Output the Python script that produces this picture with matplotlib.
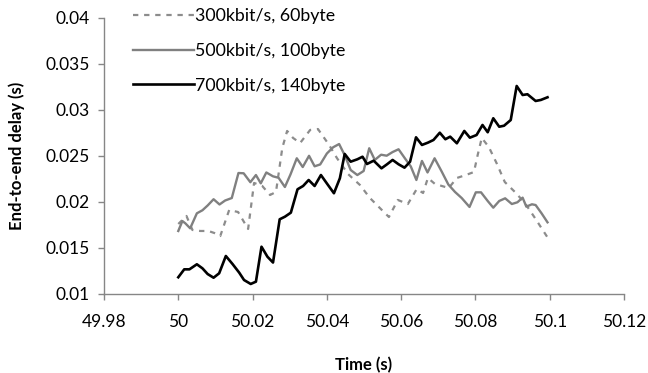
import matplotlib
matplotlib.use("Agg")
import matplotlib.pyplot as plt

# 300kbit/s, 60byte (dashed grey)
time_300 = [50.0, 50.0022, 50.0038, 50.0059, 50.0081, 50.0097, 50.0113, 50.0137,
            50.0161, 50.0188, 50.0204, 50.0226, 50.0247, 50.0263, 50.0280, 50.0293,
            50.0309, 50.0328, 50.0355, 50.0376, 50.0406, 50.0427, 50.0457, 50.0489,
            50.0516, 50.0548, 50.0567, 50.0591, 50.0618, 50.0642, 50.0659, 50.0672,
            50.0691, 50.0728, 50.0750, 50.0774, 50.0796, 50.0806, 50.0817, 50.0836,
            50.0858, 50.0879, 50.0909, 50.0935, 50.0962, 50.0995]
delay_300 = [0.01761, 0.01848, 0.01696, 0.01685, 0.01685, 0.01663, 0.01630, 0.01913,
             0.01891, 0.01707, 0.02207, 0.02174, 0.02076, 0.02109, 0.02587, 0.02772,
             0.02696, 0.02641, 0.02783, 0.02793, 0.02620, 0.02478, 0.02304, 0.02185,
             0.02043, 0.01913, 0.01837, 0.02022, 0.01978, 0.02141, 0.02098, 0.02261,
             0.02196, 0.02152, 0.02261, 0.02293, 0.02326, 0.02511, 0.02696, 0.02598,
             0.02413, 0.02217, 0.02098, 0.01978, 0.01815, 0.01609]

# 500kbit/s, 100byte (solid grey)
time_500 = [50.0, 50.0011, 50.0019, 50.0032, 50.0050, 50.0065, 50.0079, 50.0095,
            50.0111, 50.0126, 50.0144, 50.0162, 50.0176, 50.0194, 50.0209, 50.0222,
            50.0237, 50.0255, 50.0270, 50.0287, 50.0302, 50.0319, 50.0335, 50.0352,
            50.0367, 50.0382, 50.0400, 50.0417, 50.0433, 50.0449, 50.0464, 50.0482,
            50.0499, 50.0514, 50.0529, 50.0546, 50.0561, 50.0577, 50.0593, 50.0610,
            50.0626, 50.0641, 50.0656, 50.0671, 50.0690, 50.0709, 50.0727, 50.0745,
            50.0763, 50.0784, 50.0801, 50.0815, 50.0833, 50.0848, 50.0864, 50.0880,
            50.0898, 50.0913, 50.0927, 50.0937, 50.0952, 50.0962, 50.0978, 50.0994]
delay_500 = [0.01685, 0.01793, 0.01768, 0.01714, 0.01877, 0.01910, 0.01962, 0.02030,
             0.01973, 0.02016, 0.02043, 0.02315, 0.02312, 0.02215, 0.02293, 0.02203,
             0.02321, 0.02279, 0.02263, 0.02163, 0.02299, 0.02475, 0.02380, 0.02502,
             0.02388, 0.02408, 0.02527, 0.02595, 0.02630, 0.02500, 0.02348, 0.02293,
             0.02337, 0.02584, 0.02457, 0.02514, 0.02503, 0.02543, 0.02573, 0.02475,
             0.02386, 0.02239, 0.02446, 0.02321, 0.02475, 0.02332, 0.02190, 0.02109,
             0.02043, 0.01946, 0.02105, 0.02105, 0.02011, 0.01938, 0.02011, 0.02040,
             0.01978, 0.01997, 0.02047, 0.01949, 0.01975, 0.01967, 0.01877, 0.01779]

# 700kbit/s, 140byte (solid black)
time_700 = [50.0, 50.0016, 50.0030, 50.0050, 50.0065, 50.0079, 50.0095, 50.0110,
            50.0128, 50.0146, 50.0164, 50.0177, 50.0195, 50.0209, 50.0224, 50.0240,
            50.0255, 50.0273, 50.0287, 50.0303, 50.0321, 50.0336, 50.0351, 50.0367,
            50.0384, 50.0401, 50.0419, 50.0435, 50.0448, 50.0464, 50.0482, 50.0496,
            50.0508, 50.0526, 50.0547, 50.0562, 50.0577, 50.0593, 50.0609, 50.0624,
            50.0640, 50.0656, 50.0672, 50.0687, 50.0704, 50.0719, 50.0732, 50.0750,
            50.0770, 50.0785, 50.0803, 50.0819, 50.0833, 50.0848, 50.0864, 50.0877,
            50.0895, 50.0911, 50.0927, 50.0940, 50.0962, 50.0976, 50.0994]
delay_700 = [0.01182, 0.01268, 0.01268, 0.01323, 0.01279, 0.01217, 0.01177, 0.01225,
             0.01413, 0.01326, 0.01232, 0.01152, 0.01109, 0.01134, 0.01514, 0.01405,
             0.01342, 0.01812, 0.01840, 0.01884, 0.02138, 0.02174, 0.02239, 0.02174,
             0.02293, 0.02196, 0.02095, 0.02258, 0.02522, 0.02438, 0.02464, 0.02492,
             0.02413, 0.02449, 0.02366, 0.02410, 0.02457, 0.02410, 0.02373, 0.02438,
             0.02703, 0.02620, 0.02645, 0.02674, 0.02753, 0.02682, 0.02710, 0.02638,
             0.02772, 0.02699, 0.02728, 0.02837, 0.02758, 0.02910, 0.02818, 0.02829,
             0.02891, 0.03261, 0.03163, 0.03171, 0.03098, 0.03109, 0.03138]

x_ticks = [49.98, 50.0, 50.02, 50.04, 50.06, 50.08, 50.1, 50.12]
x_tick_labels = ["49.98", "50", "50.02", "50.04", "50.06", "50.08", "50.1", "50.12"]
y_ticks = [0.01, 0.015, 0.02, 0.025, 0.03, 0.035, 0.04]
y_tick_labels = ["0.01", "0.015", "0.02", "0.025", "0.03", "0.035", "0.04"]


def main():
    plt.rcParams["font.family"] = ["Lato", "DejaVu Sans"]
    axis_grey = "#868686"

    fig = plt.figure(figsize=(6.48, 3.73), dpi=100)
    ax = fig.add_axes([0.1605, 0.2118, 0.8025, 0.74])

    ax.plot(time_300, delay_300, color="#8c8c8c", linewidth=1.6,
            linestyle=(0, (2.4, 2.6)), label="300kbit/s, 60byte")
    ax.plot(time_500, delay_500, color="#808080", linewidth=1.7,
            label="500kbit/s, 100byte")
    ax.plot(time_700, delay_700, color="black", linewidth=1.9,
            label="700kbit/s, 140byte")

    ax.set_xlim(49.98, 50.12)
    ax.set_ylim(0.01, 0.04)
    ax.set_xticks(x_ticks)
    ax.set_xticklabels(x_tick_labels)
    ax.set_yticks(y_ticks)
    ax.set_yticklabels(y_tick_labels)

    # Excel-like axes: only left and bottom, grey
    for side in ["top", "right"]:
        ax.spines[side].set_visible(False)
    for side in ["left", "bottom"]:
        ax.spines[side].set_color(axis_grey)
        ax.spines[side].set_linewidth(1.0)
    ax.tick_params(axis="both", direction="out", length=4, width=1.0,
                   color=axis_grey, labelsize=12.5, labelcolor="black")
    ax.tick_params(axis="x", pad=10.5)
    ax.tick_params(axis="y", pad=6)

    ax.set_xlabel("Time (s)", fontsize=12, fontweight="bold", labelpad=19)
    ax.set_ylabel("End-to-end delay (s)", fontsize=12, fontweight="bold", labelpad=15)

    ax.legend(loc="upper left", bbox_to_anchor=(0.056, 1.035), frameon=False,
              fontsize=12.8, handlelength=3.4, handletextpad=0.1,
              labelspacing=1.05, borderpad=0, borderaxespad=0)

    plt.savefig("out.png", dpi=100)
    plt.close()


if __name__ == "__main__":
    main()
